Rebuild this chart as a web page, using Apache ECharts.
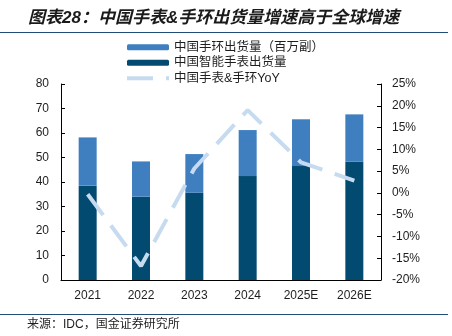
<!DOCTYPE html>
<html>
<head>
<meta charset="utf-8">
<script src="https://cdn.jsdelivr.net/npm/echarts@6/dist/echarts.min.js"></script>
<style>
  html, body { margin: 0; padding: 0; background: #fff; }
  #chart { width: 452px; height: 336px; }
</style>
</head>
<body>
<div id="chart"></div>
<script>
// Shipments in millions (stacked: smartwatch at the bottom, wristband on top)
var years = ['2021', '2022', '2023', '2024', '2025E', '2026E'];
var watchShip = [38.5, 34.0, 35.6, 42.4, 46.5, 48.4];
var bandShip = [19.7, 14.4, 15.8, 18.8, 19.1, 19.2];
// Combined year-over-year growth, percent
var yoy = [-0.3, -16.8, 5.6, 19.0, 7.0, 2.8];

var leftTicks = { min: 0, max: 80, interval: 10 };
var rightTicks = { min: -20, max: 25, interval: 5 };

var nameBand = '中国手环出货量（百万副）';
var nameWatch = '中国智能手表出货量';
var nameYoy = '中国手表&手环YoY';

var fontLatin = '"Liberation Sans", Arial, sans-serif';
var fontCjk = '"Liberation Sans", "Noto Sans CJK SC", sans-serif';
var ink = '#1e1e1e';
var rule = '#1f4e79';
var yoyColor = '#c6dbf0';
var yoyDash = [26, 13];

var chart = echarts.init(document.getElementById('chart'), null, { renderer: 'canvas' });

chart.setOption({
  animation: false,
  backgroundColor: '#ffffff',
  grid: { left: 61, right: 71, top: 84, bottom: 56, containLabel: false },
  legend: {
    orient: 'vertical',
    left: 125,
    top: 41,
    padding: 0,
    itemWidth: 42,
    itemHeight: 6,
    itemGap: 3,
    data: [
      nameBand,
      nameWatch,
      {
        name: nameYoy,
        itemStyle: { opacity: 0 },
        lineStyle: { color: yoyColor, width: 4, type: yoyDash }
      }
    ],
    textStyle: { fontFamily: fontCjk, fontSize: 12.5, color: ink }
  },
  xAxis: {
    type: 'category',
    data: years,
    axisLine: { lineStyle: { color: '#000', width: 1 } },
    axisTick: { inside: true, length: 4, alignWithLabel: false, lineStyle: { color: '#000' } },
    axisLabel: { fontFamily: fontLatin, fontSize: 12, color: ink, margin: 10 },
    splitLine: { show: false }
  },
  yAxis: [
    {
      type: 'value',
      min: leftTicks.min, max: leftTicks.max, interval: leftTicks.interval,
      axisLine: { show: true, lineStyle: { color: '#000', width: 1 } },
      axisTick: { show: true, inside: true, length: 4, lineStyle: { color: '#000' } },
      axisLabel: { fontFamily: fontLatin, fontSize: 12, color: ink, margin: 12 },
      splitLine: { show: false }
    },
    {
      type: 'value',
      min: rightTicks.min, max: rightTicks.max, interval: rightTicks.interval,
      position: 'right',
      axisLine: { show: true, lineStyle: { color: '#000', width: 1 } },
      axisTick: { show: true, inside: true, length: 4, lineStyle: { color: '#000' } },
      axisLabel: { fontFamily: fontLatin, fontSize: 12, color: ink, margin: 11, formatter: '{value}%' },
      splitLine: { show: false }
    }
  ],
  series: [
    {
      name: nameWatch,
      type: 'bar',
      stack: 'ship',
      barWidth: 18,
      data: watchShip,
      itemStyle: { color: '#034a70' }
    },
    {
      name: nameBand,
      type: 'bar',
      stack: 'ship',
      barWidth: 18,
      data: bandShip,
      itemStyle: { color: '#3f7fc0' }
    },
    {
      name: nameYoy,
      type: 'line',
      yAxisIndex: 1,
      data: yoy,
      symbol: 'none',
      z: 5,
      itemStyle: { color: yoyColor },
      lineStyle: { color: yoyColor, width: 4, type: yoyDash }
    }
  ],
  graphic: [
    {
      type: 'text',
      left: 28,
      top: 10,
      style: {
        text: '图表28：中国手表&手环出货量增速高于全球增速',
        font: 'italic bold 17px "Liberation Sans", "Noto Sans CJK SC", sans-serif',
        fill: '#1a1a1a'
      }
    },
    {
      type: 'line',
      shape: { x1: 0, y1: 32.5, x2: 448, y2: 32.5 },
      style: { stroke: rule, lineWidth: 1.2 }
    },
    {
      type: 'line',
      shape: { x1: 0, y1: 314.5, x2: 448, y2: 314.5 },
      style: { stroke: rule, lineWidth: 1.2 }
    },
    {
      type: 'text',
      left: 27,
      top: 319,
      style: {
        text: '来源：IDC，国金证券研究所',
        font: '12px "Liberation Sans", "Noto Sans CJK SC", sans-serif',
        fill: ink
      }
    }
  ]
});
</script>
</body>
</html>
